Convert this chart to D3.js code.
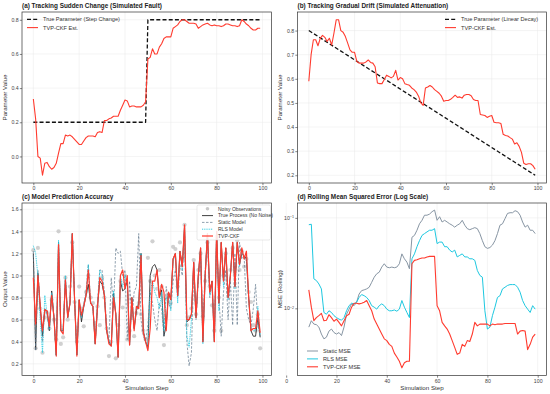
<!DOCTYPE html>
<html>
<head>
<meta charset="utf-8">
<script src="https://cdn.jsdelivr.net/npm/d3@7"></script>
<style>
  body { margin: 0; background: #fff; }
  svg { display: block; font-family: "Liberation Sans", Arial, sans-serif; }
</style>
</head>
<body>
<svg id="chart" width="550" height="394"></svg>
<script>
// ---- data ----
const steps = d3.range(0, 100);
const mseSteps = d3.range(9, 100);

// (a) step change
const stepTrueX = [0, 49, 50, 99];
const stepTrueY = [0.2, 0.2, 0.8, 0.8];
const stepEst = [0.336,0.22,0.0,-0.01,-0.11,-0.04,-0.035,-0.06,-0.075,-0.065,
  -0.04,0.02,0.075,0.075,0.125,0.12,0.125,0.115,0.10,0.085,
  0.07,0.07,0.09,0.11,0.12,0.12,0.12,0.115,0.14,0.145,
  0.14,0.21,0.21,0.22,0.225,0.235,0.235,0.235,0.27,0.30,
  0.33,0.325,0.29,0.295,0.295,0.29,0.29,0.29,0.30,0.32,
  0.57,0.58,0.63,0.60,0.60,0.64,0.66,0.69,0.70,0.70,
  0.70,0.75,0.76,0.77,0.79,0.80,0.80,0.79,0.78,0.78,
  0.78,0.775,0.75,0.76,0.77,0.775,0.78,0.77,0.765,0.77,
  0.765,0.765,0.76,0.765,0.775,0.775,0.77,0.765,0.765,0.76,
  0.765,0.80,0.79,0.775,0.765,0.75,0.74,0.74,0.75,0.75];

// (b) linear drift
const driftTrueX = [0, 99];
const driftTrueY = [0.8, 0.2];
const driftEst = [0.59,0.70,0.762,0.762,0.737,0.768,0.78,0.772,0.755,0.768,
  0.74,0.79,0.845,0.845,0.80,0.793,0.775,0.748,0.72,0.71,
  0.71,0.672,0.665,0.665,0.665,0.67,0.678,0.668,0.665,0.65,
  0.583,0.58,0.58,0.597,0.615,0.61,0.604,0.61,0.635,0.595,
  0.605,0.60,0.58,0.576,0.573,0.562,0.555,0.545,0.528,0.50,
  0.49,0.562,0.566,0.572,0.566,0.555,0.548,0.54,0.528,0.507,
  0.51,0.51,0.515,0.523,0.532,0.523,0.525,0.52,0.532,0.535,
  0.535,0.53,0.514,0.51,0.51,0.452,0.45,0.448,0.44,0.445,
  0.448,0.42,0.418,0.418,0.415,0.37,0.365,0.363,0.356,0.35,
  0.33,0.335,0.32,0.295,0.25,0.245,0.248,0.248,0.24,0.225];

// (c) prediction
const obsVals = [1.23,0.34,1.25,0.70,0.30,0.62,0.66,0.52,0.78,0.60,
  0.42,1.40,0.38,0.44,0.98,0.60,0.90,1.30,0.76,0.40,
  0.90,0.70,0.54,0.85,1.00,0.80,0.75,0.57,0.72,0.55,
  0.98,0.80,0.52,0.27,0.40,0.75,0.25,0.55,0.95,0.71,
  1.00,0.42,0.50,0.78,0.45,0.66,0.75,0.65,0.50,0.42,
  1.16,0.95,1.31,1.00,0.88,1.05,0.90,0.37,0.80,0.82,
  0.75,1.26,1.24,0.90,1.30,1.15,1.46,0.55,0.62,0.70,
  1.14,0.65,1.05,1.20,0.63,0.95,1.30,0.90,0.73,0.50,
  1.35,0.80,0.50,1.00,1.20,0.85,1.05,1.25,1.08,1.32,
  1.05,1.22,1.08,1.15,0.85,0.76,0.55,0.50,0.65,0.34];
const trueVals = [1.20,0.33,1.02,0.72,0.45,0.69,0.68,0.50,0.86,0.62,
  0.28,1.30,0.50,0.50,0.96,0.62,0.75,1.38,0.78,0.28,
  0.78,0.58,0.72,0.82,0.92,0.75,0.72,0.38,0.72,0.95,
  0.92,0.82,0.50,0.40,0.36,0.84,0.65,0.26,0.95,0.86,
  0.88,0.95,0.37,0.80,0.52,0.68,0.75,1.20,0.50,0.40,
  0.35,1.00,1.08,1.10,1.05,0.80,0.87,0.45,0.55,0.85,
  0.78,1.15,1.20,0.82,1.22,1.08,1.45,0.58,0.60,0.65,
  1.12,0.62,1.00,1.25,0.40,1.00,1.38,0.85,0.95,0.40,
  1.40,0.75,1.30,0.95,1.25,0.80,1.00,1.30,0.90,1.30,
  1.10,1.20,1.18,1.15,0.80,0.50,0.45,0.45,0.62,0.44];
const staticVals = [1.22,0.32,1.05,0.70,0.40,0.70,0.65,0.50,0.85,0.62,
  0.28,1.30,0.50,0.48,0.98,0.62,0.75,1.36,0.80,0.30,
  0.76,0.62,0.75,0.85,1.10,0.75,0.72,0.40,0.75,1.05,
  1.05,0.85,0.55,0.40,0.98,0.70,1.25,1.20,1.22,1.00,
  1.05,0.42,0.95,0.60,0.85,0.90,1.38,0.60,0.45,0.40,
  0.55,0.85,0.75,0.60,0.50,0.75,0.70,0.45,0.90,0.75,
  0.70,0.95,1.05,0.80,1.10,1.00,1.40,0.40,0.18,0.30,
  1.05,0.60,0.95,1.15,0.55,1.05,1.30,0.80,0.95,0.45,
  1.35,0.80,0.45,0.85,1.05,0.60,0.95,0.55,1.20,0.55,
  1.30,1.15,1.18,0.70,0.60,0.55,0.70,0.92,0.55,0.45];
const rlsVals = [1.27,1.20,1.00,0.60,0.30,0.82,0.65,0.52,0.84,0.62,
  0.27,1.32,0.50,0.50,1.00,0.62,0.75,1.38,0.78,0.28,
  0.76,0.62,0.72,0.84,1.10,0.75,0.72,0.38,0.72,1.05,
  1.00,0.82,0.50,0.40,0.36,0.86,0.65,0.26,1.00,0.90,
  1.00,0.92,0.37,0.80,0.52,0.72,0.72,1.20,0.48,0.40,
  0.33,0.85,0.95,0.85,0.80,0.70,0.85,0.50,0.80,0.82,
  0.68,1.12,1.20,0.75,1.22,1.05,1.44,0.45,0.35,0.60,
  1.10,0.62,1.00,1.22,0.38,1.00,1.36,0.82,0.92,0.42,
  1.38,0.68,1.28,0.90,1.22,0.78,1.00,1.28,0.88,1.30,
  1.08,1.22,1.15,1.18,0.78,0.52,0.50,0.50,0.72,0.46];
const tvpVals = [0.98,0.56,1.00,0.72,0.50,0.69,0.68,0.54,0.82,0.62,
  0.27,1.28,0.50,0.47,0.96,0.62,0.75,1.38,0.78,0.27,
  0.78,0.64,0.72,0.82,1.05,0.75,0.72,0.38,0.72,0.98,
  0.95,0.82,0.50,0.38,0.36,0.80,0.65,0.26,1.00,1.05,
  0.88,1.00,0.37,0.80,0.50,0.72,0.70,1.18,0.48,0.40,
  0.32,0.52,0.95,0.95,1.05,0.80,0.92,0.85,0.50,0.85,
  0.78,1.15,1.20,0.82,1.22,1.08,1.46,0.60,0.60,0.65,
  1.12,0.62,1.00,1.25,0.40,1.00,1.38,0.85,0.95,0.40,
  1.40,0.75,1.30,0.95,1.25,0.80,1.00,1.30,0.90,1.30,
  1.10,1.25,1.15,1.22,0.80,0.50,0.52,0.52,0.68,0.48];

// (d) rolling MSE, steps 9..99
const staticMse = [0.0062,0.0073,0.0067,0.0066,0.0062,0.0052,0.0046,0.0048,0.0056,0.0059,
  0.0054,0.0052,0.0054,0.0050,0.0062,0.0086,0.0098,0.0112,0.0107,0.0117,
  0.0144,0.0157,0.0160,0.0164,0.0171,0.0194,0.0221,0.0241,0.0251,0.0286,
  0.0311,0.0286,0.0281,0.0286,0.0281,0.0286,0.0311,0.040,0.0353,0.0324,
  0.0274,0.061,0.064,0.073,0.086,0.094,0.107,0.107,0.110,0.117,
  0.122,0.094,0.103,0.090,0.094,0.090,0.086,0.083,0.079,0.083,
  0.086,0.094,0.083,0.076,0.074,0.076,0.078,0.076,0.067,0.056,
  0.048,0.046,0.047,0.050,0.056,0.067,0.083,0.086,0.098,0.112,
  0.114,0.114,0.120,0.117,0.107,0.090,0.079,0.083,0.073,0.073,
  0.067];
const rlsMse = [0.084,0.085,0.0212,0.0203,0.0186,0.0164,0.0090,0.0086,0.0094,0.0090,
  0.0083,0.0079,0.0076,0.0074,0.0079,0.0094,0.0107,0.0114,0.0112,0.0117,
  0.0132,0.0142,0.0138,0.0132,0.0122,0.0107,0.0103,0.0098,0.0107,0.0112,
  0.0107,0.0098,0.0094,0.0094,0.0096,0.0093,0.0098,0.0122,0.0103,0.0090,
  0.0079,0.0353,0.040,0.048,0.056,0.064,0.067,0.070,0.073,0.073,
  0.076,0.052,0.054,0.054,0.048,0.048,0.044,0.042,0.044,0.037,
  0.0385,0.040,0.037,0.037,0.0353,0.0353,0.0339,0.0262,0.0231,0.0221,
  0.0094,0.0059,0.0062,0.0083,0.0103,0.0132,0.0138,0.0164,0.0171,0.0179,
  0.0183,0.0183,0.0183,0.0171,0.0151,0.0122,0.0107,0.0098,0.0090,0.0107,
  0.0098];
const tvpMse = [0.0160,0.0103,0.0073,0.0079,0.0083,0.0088,0.0073,0.0074,0.0085,0.0079,
  0.0072,0.0076,0.0070,0.0064,0.0073,0.0083,0.0086,0.0103,0.0114,0.0114,
  0.0112,0.0114,0.0117,0.0122,0.0107,0.0094,0.0076,0.0067,0.0059,0.0052,
  0.0046,0.0044,0.0040,0.0038,0.0032,0.0029,0.0026,0.0022,0.0025,0.0026,
  0.0026,0.0311,0.0339,0.0344,0.0353,0.036,0.036,0.037,0.0375,0.0375,
  0.0375,0.0107,0.0094,0.0070,0.0064,0.0059,0.0052,0.0044,0.0037,0.0031,
  0.0032,0.0040,0.0038,0.0044,0.0043,0.0052,0.0070,0.0064,0.0067,0.0067,
  0.0067,0.0067,0.0064,0.0067,0.0066,0.0067,0.0067,0.0067,0.0068,0.0068,
  0.0068,0.0068,0.0068,0.0052,0.0056,0.0057,0.0056,0.0035,0.0040,0.0048,
  0.0052];

const xTicks = [0, 20, 40, 60, 80, 100];

const RED = "#ff3b2f", CYAN = "#1ec8e0", SLATE = "#8795a3", DARK = "#2b2b2b";

const svg = d3.select("#chart");

function makePanel(box, xDomain, yScale, yTicks, yFmt, title, yLabel, xLabel) {
  const x = d3.scaleLinear().domain(xDomain).range([box.x0, box.x1]);
  const y = yScale.range([box.y1, box.y0]);
  const g = svg.append("g");

  // light grid at the ticks
  g.selectAll(".gx").data(xTicks).join("line")
    .attr("x1", d => x(d)).attr("x2", d => x(d))
    .attr("y1", box.y0).attr("y2", box.y1)
    .attr("stroke", "#e8e8e8").attr("stroke-width", 0.5);
  g.selectAll(".gy").data(yTicks).join("line")
    .attr("x1", box.x0).attr("x2", box.x1)
    .attr("y1", d => y(d)).attr("y2", d => y(d))
    .attr("stroke", "#e8e8e8").attr("stroke-width", 0.5);

  const xa = g.append("g").attr("transform", `translate(0,${box.y1})`)
    .call(d3.axisBottom(x).tickValues(xTicks).tickSize(2.2).tickPadding(1.2).tickFormat(d3.format("d")));
  const ya = g.append("g").attr("transform", `translate(${box.x0},0)`)
    .call(d3.axisLeft(y).tickValues(yTicks).tickSize(2.2).tickPadding(1.2).tickFormat(yFmt));
  [xa, ya].forEach(a => {
    a.select(".domain").remove();
    a.selectAll("line").attr("stroke", "#333").attr("stroke-width", 0.6);
    a.selectAll("text").attr("fill", "#444").style("font-size", "5.2px");
  });

  svg.append("text").attr("x", box.x0).attr("y", box.y0 - 4)
    .style("font-size", "6.4px").style("font-weight", "bold").attr("fill", "#222")
    .text(title);
  svg.append("text")
    .attr("transform", `translate(${box.x0 - 15.5},${(box.y0 + box.y1) / 2}) rotate(-90)`)
    .attr("text-anchor", "middle").style("font-size", "6.2px").attr("fill", "#333")
    .text(yLabel);
  if (xLabel) {
    svg.append("text").attr("x", (box.x0 + box.x1) / 2).attr("y", box.y1 + 14)
      .attr("text-anchor", "middle").style("font-size", "6.2px").attr("fill", "#333")
      .text(xLabel);
  }
  return {g, x, y, box};
}

function frame(p) {
  p.g.append("rect").attr("x", p.box.x0).attr("y", p.box.y0)
    .attr("width", p.box.x1 - p.box.x0).attr("height", p.box.y1 - p.box.y0)
    .attr("fill", "none").attr("stroke", "#333").attr("stroke-width", 0.7);
}

function drawLine(p, xs, ys, color, width, dash) {
  const line = d3.line().x(d => p.x(d[0])).y(d => p.y(d[1]));
  p.g.append("path").datum(xs.map((v, i) => [v, ys[i]]))
    .attr("d", line).attr("fill", "none")
    .attr("stroke", color).attr("stroke-width", width)
    .attr("stroke-dasharray", dash || null)
    .attr("stroke-linejoin", "round");
}

function legend(p, x0, y0, rowH, items, boxed) {
  const lg = p.g.append("g");
  if (boxed) {
    lg.append("rect").attr("x", boxed.x).attr("y", boxed.y).attr("width", boxed.w).attr("height", boxed.h)
      .attr("rx", 1.5).attr("fill", "rgba(255,255,255,0.85)").attr("stroke", "#d0d0d0").attr("stroke-width", 0.5);
  }
  items.forEach((it, i) => {
    const yy = y0 + i * rowH;
    if (it.marker) {
      lg.append("circle").attr("cx", x0 + 5.5).attr("cy", yy).attr("r", 1.8).attr("fill", "#c8c8c8");
    } else {
      lg.append("line").attr("x1", x0).attr("x2", x0 + 11).attr("y1", yy).attr("y2", yy)
        .attr("stroke", it.color).attr("stroke-width", it.width).attr("stroke-dasharray", it.dash || null);
    }
    lg.append("text").attr("x", x0 + 16).attr("y", yy).attr("dy", "0.35em")
      .style("font-size", it.size || "5.6px").attr("fill", "#333").text(it.label);
  });
}

const fmt1 = d3.format(".1f");

// (a)
const pa = makePanel({x0: 22, x1: 271.5, y0: 12, y1: 183}, [-4.95, 103.95],
  d3.scaleLinear().domain([-0.1555, 0.8455]), [0, 0.2, 0.4, 0.6, 0.8], fmt1,
  "(a) Tracking Sudden Change (Simulated Fault)", "Parameter Value", null);
drawLine(pa, stepTrueX, stepTrueY, "#111", 1.3, "4,2.2");
drawLine(pa, steps, stepEst, RED, 1.1);
frame(pa);
legend(pa, 27, 19.3, 8.3, [
  {label: "True Parameter (Step Change)", color: "#111", width: 1.3, dash: "4,2.2"},
  {label: "TVP-CKF Est.", color: RED, width: 1.1}
]);

// (b)
const pb = makePanel({x0: 297.5, x1: 546.5, y0: 12, y1: 183}, [-4.95, 103.95],
  d3.scaleLinear().domain([0.168, 0.877]), [0.2, 0.3, 0.4, 0.5, 0.6, 0.7, 0.8], fmt1,
  "(b) Tracking Gradual Drift (Simulated Attenuation)", "Parameter Value", null);
drawLine(pb, driftTrueX, driftTrueY, "#111", 1.3, "4,2.2");
drawLine(pb, steps, driftEst, RED, 1.1);
frame(pb);
legend(pb, 445, 19.3, 8.3, [
  {label: "True Parameter (Linear Decay)", color: "#111", width: 1.3, dash: "4,2.2"},
  {label: "TVP-CKF Est.", color: RED, width: 1.1}
]);

// (c)
const pc = makePanel({x0: 22, x1: 271.5, y0: 203, y1: 375.5}, [-4.95, 103.95],
  d3.scaleLinear().domain([0.094, 1.657]), [0.2, 0.4, 0.6, 0.8, 1.0, 1.2, 1.4, 1.6], fmt1,
  "(c) Model Prediction Accuracy", "Output Value", "Simulation Step");
pc.g.selectAll(".obs").data(steps).join("circle")
  .attr("cx", d => pc.x(d)).attr("cy", d => pc.y(obsVals[d])).attr("r", 2.1)
  .attr("fill", "#c4c4c4").attr("opacity", 0.8);
drawLine(pc, steps, trueVals, DARK, 0.9);
drawLine(pc, steps, staticVals, "#62788c", 0.7, "2.5,1.5");
drawLine(pc, steps, rlsVals, CYAN, 0.9, "1,0.8");
drawLine(pc, steps, tvpVals, RED, 1.2);
frame(pc);
legend(pc, 202, 208.8, 6.8, [
  {label: "Noisy Observations", marker: true},
  {label: "True Process (No Noise)", color: DARK, width: 0.9},
  {label: "Static Model", color: "#62788c", width: 0.7, dash: "2.5,1.5"},
  {label: "RLS Model", color: CYAN, width: 0.9, dash: "1,0.8"},
  {label: "TVP-CKF", color: RED, width: 1.2}
].map(d => Object.assign(d, {size: "5px"})), {x: 197, y: 205, w: 73.5, h: 35});

// (d)
const pd = makePanel({x0: 297.5, x1: 546.5, y0: 203, y1: 375.5}, [4.5, 103.5],
  d3.scaleLog().domain([0.00181, 0.146]), [0.01, 0.1], () => "",
  "(d) Rolling Mean Squared Error (Log Scale)", "MSE (Rolling)", "Simulation Step");
// log tick labels written as 10 with a superscript exponent
pd.g.selectAll(".lt").data([0.1, 0.01]).join("text")
  .attr("x", pd.box.x0 - 3.5).attr("y", d => pd.y(d)).attr("dy", "0.35em")
  .attr("text-anchor", "end").attr("fill", "#444").style("font-size", "5.2px")
  .each(function(d) {
    const t = d3.select(this);
    t.append("tspan").text("10");
    t.append("tspan").attr("dy", "-0.4em").style("font-size", "3.7px").text("\u2212" + Math.round(-Math.log10(d)));
  });
drawLine(pd, mseSteps, staticMse, SLATE, 1.0);
drawLine(pd, mseSteps, rlsMse, CYAN, 1.0);
drawLine(pd, mseSteps, tvpMse, RED, 1.1);
frame(pd);
legend(pd, 307, 351, 7.9, [
  {label: "Static MSE", color: SLATE, width: 1.0},
  {label: "RLS MSE", color: CYAN, width: 1.0},
  {label: "TVP-CKF MSE", color: RED, width: 1.1}
]);
</script>
</body>
</html>
